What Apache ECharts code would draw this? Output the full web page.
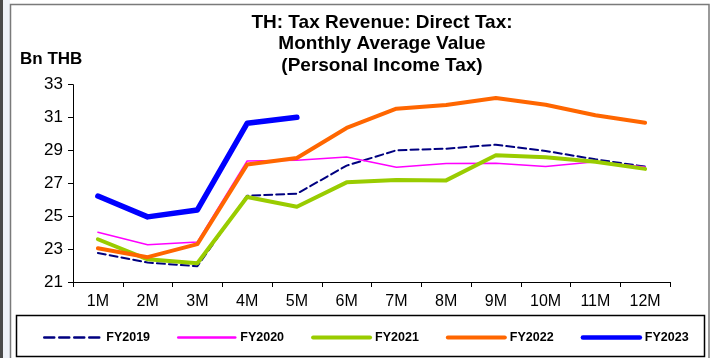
<!DOCTYPE html>
<html>
<head>
<meta charset="utf-8">
<style>
  html, body { margin: 0; padding: 0; background: #ffffff; }
  #chart { width: 710px; height: 358px; }
</style>
<script src="https://cdn.jsdelivr.net/npm/echarts@6/dist/echarts.min.js"></script>
</head>
<body>
<div id="chart"></div>
<script>
// Monthly average personal income tax revenue, Bn THB
const months = ['1M', '2M', '3M', '4M', '5M', '6M', '7M', '8M', '9M', '10M', '11M', '12M'];
const fy2019 = [22.77, 22.18, 21.96, 26.25, 26.37, 28.08, 29.01, 29.11, 29.35, 28.97, 28.46, 28.02];
const fy2020 = [24.03, 23.27, 23.44, 28.36, 28.40, 28.60, 27.98, 28.20, 28.22, 28.02, 28.32, 27.99];
const fy2021 = [23.60, 22.38, 22.14, 26.17, 25.58, 27.06, 27.20, 27.18, 28.71, 28.59, 28.32, 27.88];
const fy2022 = [23.05, 22.51, 23.30, 28.14, 28.54, 30.37, 31.54, 31.77, 32.19, 31.78, 31.14, 30.69];
const fy2023 = [26.23, 24.96, 25.38, 30.65, 31.02];
const yMin = 21, yMax = 33, yStep = 2;

const FONT = '"Liberation Sans", Arial, sans-serif';

const seriesDefs = [
  { name: 'FY2019', data: fy2019, color: '#000080', width: 2, type: 'dashed' },
  { name: 'FY2020', data: fy2020, color: '#ff00ff', width: 1.5, type: 'solid' },
  { name: 'FY2021', data: fy2021, color: '#99cc00', width: 4, type: 'solid' },
  { name: 'FY2022', data: fy2022, color: '#ff6600', width: 4, type: 'solid' },
  { name: 'FY2023', data: fy2023, color: '#0000ff', width: 5.5, type: 'solid' }
];

const chart = echarts.init(document.getElementById('chart'), null, { renderer: 'canvas' });

chart.setOption({
  animation: false,
  backgroundColor: '#ffffff',
  textStyle: { fontFamily: FONT },
  graphic: [
    { type: 'rect', z: -10, shape: { x: 0, y: 0, width: 3, height: 358 }, style: { fill: '#4a4a4a' } },
    { type: 'rect', z: -10, shape: { x: 3, y: 0, width: 7, height: 358 }, style: { fill: '#eef1f7' } },
    { type: 'polyline', z: -5, shape: { points: [[10.5, 358], [10.5, 4.5], [709, 4.5], [709, 358]] },
      style: { stroke: '#7a7a7a', lineWidth: 1.5, fill: null } },
    { type: 'rect', z: -5, shape: { x: 16.5, y: 315.5, width: 688, height: 41 },
      style: { stroke: '#000000', lineWidth: 1.5, fill: null } },
    { type: 'text', left: 20, top: 51,
      style: { text: 'Bn THB', font: 'bold 17px ' + FONT, fill: '#000000' } }
  ],
  title: {
    text: 'TH: Tax Revenue: Direct Tax:\nMonthly Average Value\n(Personal Income Tax)',
    left: 377, top: 7, textAlign: 'center',
    textStyle: { fontFamily: FONT, fontSize: 19, fontWeight: 'bold', color: '#000000', lineHeight: 21.5 }
  },
  legend: {
    left: 43, top: 331, width: 667, padding: 0,
    itemWidth: 57, itemHeight: 14, itemGap: 27,
    z: 10,
    textStyle: { fontFamily: FONT, fontSize: 12.5, fontWeight: 'bold', color: '#000000' },
    data: seriesDefs.map(s => ({
      name: s.name,
      itemStyle: { opacity: 0 },
      lineStyle: { width: Math.min(Math.max(s.width, 2.5), 4.5), type: s.type, color: s.color }
    }))
  },
  grid: { left: 73, right: 40, top: 84.7, bottom: 76 },
  xAxis: {
    type: 'category', data: months, boundaryGap: true,
    axisLine: { lineStyle: { color: '#000000', width: 1 } },
    axisTick: { show: true, length: 5, alignWithLabel: false, lineStyle: { color: '#000000' } },
    axisLabel: { fontFamily: FONT, fontSize: 16, color: '#000000', margin: 12 },
    splitLine: { show: false }
  },
  yAxis: {
    type: 'value', min: yMin, max: yMax, interval: yStep,
    axisLine: { show: true, lineStyle: { color: '#000000', width: 1 } },
    axisTick: { show: true, length: 5, lineStyle: { color: '#000000' } },
    axisLabel: { fontFamily: FONT, fontSize: 17, color: '#000000', margin: 10 },
    splitLine: { show: false }
  },
  series: seriesDefs.map(s => ({
    name: s.name, type: 'line', data: s.data,
    symbol: 'none', smooth: false,
    lineStyle: { color: s.color, width: s.width, type: s.type, cap: 'round', join: 'round' },
    itemStyle: { color: s.color }
  }))
});
</script>
</body>
</html>
